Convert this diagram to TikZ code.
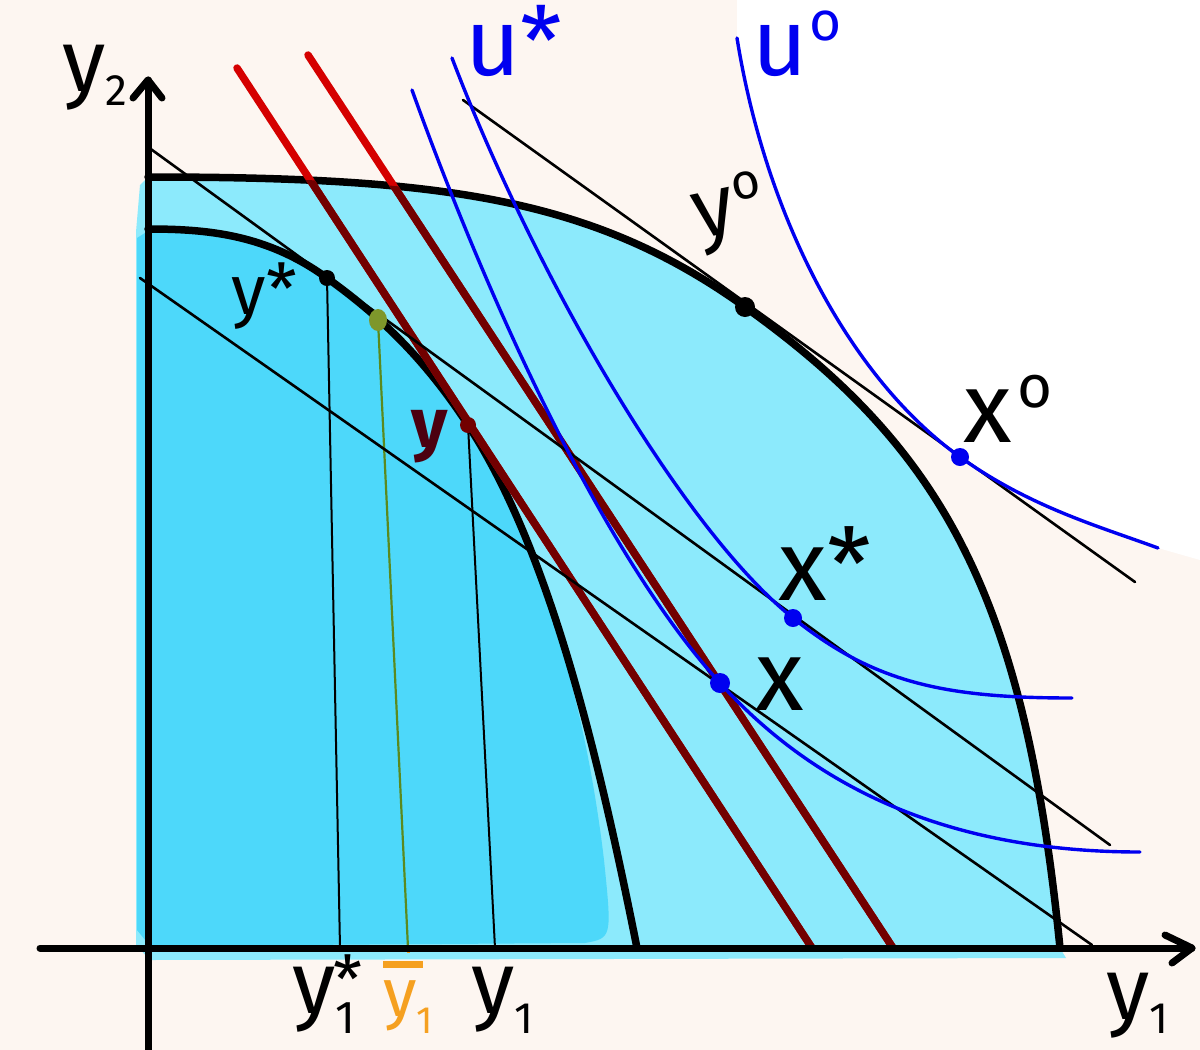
\documentclass[tikz,border=0pt]{standalone}
\usepackage{fontspec}
\setmainfont{Fira Sans}
\definecolor{cream}{HTML}{FDF6F1}
\definecolor{outerfill}{HTML}{8CEAFC}
\definecolor{innerfill}{HTML}{4DD8FA}
\definecolor{redline}{HTML}{D50000}
\definecolor{maroonline}{HTML}{720000}
\definecolor{curveblue}{HTML}{0000F0}
\definecolor{dropgreen}{HTML}{5B8A1E}
\definecolor{dotolive}{HTML}{7E972B}
\definecolor{labelorange}{HTML}{F5A020}
\definecolor{labelmaroon}{HTML}{4C0010}
\newcommand\labsz[1]{\fontsize{#1}{#1}\selectfont}
\begin{document}
\begin{tikzpicture}[x=1pt,y=-1pt,line cap=round,line join=round,
  frontier/.style={line width=7.5pt,black},
  tangent/.style={line width=2.6pt,black},
  drop/.style={line width=2pt,black},
  budget/.style={line width=7.5pt,redline},
  indiff/.style={line width=3.4pt,curveblue},
  axis/.style={line width=7pt,black},
  lab/.style={inner sep=0pt,anchor=base west,text=black}]
\useasboundingbox (0,0) rectangle (1200,1050);
\fill[cream] (0,0) rectangle (1200,1050);
% white patch right of u0
\fill[white] (737,0) -- (1200,0) -- (1200,560) -- (1158,548) .. controls (1098,526) and (1030,507) .. (960,457) .. controls (850,378) and (766,218) .. (737,38) -- cycle;
% outer region fill
\fill[outerfill] (136,232) -- (140,185) -- (148,177) .. controls (448,177) and (595,199.5) .. (745,307) .. controls (945,450) and (1025,598) .. (1060,948) -- (1066,958) -- (150,960) -- (136,945) -- cycle;
% inner region fill
\fill[innerfill] (137,238) -- (148,231) .. controls (208,231) and (267,236) .. (327,280) .. controls (377,316) and (423,358) .. (466,427) .. controls (540,545) and (585,700) .. (604,860) .. controls (612,938) .. (585,943) -- (150,946) -- (137,930) -- cycle;
% frontiers
\draw[frontier] (148,177) .. controls (448,177) and (595,199.5) .. (745,307) .. controls (945,450) and (1025,598) .. (1060,948);
\draw[frontier] (148,229) .. controls (208,229) and (267,234.5) .. (327,278) .. controls (377,314) and (423,356) .. (468,425) .. controls (548,547) and (597,748) .. (637,948);
% points
\coordinate (ys) at (327,278);
\coordinate (yg) at (378,320);
\coordinate (y) at (468,425);
\coordinate (yo) at (745,307);
\coordinate (xo) at (960,457);
\coordinate (xs) at (793,618);
\coordinate (x) at (720,683);
\coordinate (ys1) at (340,948);
\coordinate (yb1) at (408,948);
\coordinate (y1) at (495,948);
% drop lines
\draw[drop] (ys) -- (ys1);
\draw[drop] (y) -- (y1);
\draw[line width=2.2pt,dropgreen] (yg) -- (yb1);
\draw[line width=3pt,labelorange,line cap=butt] (408,946) -- (408,953);
% budget lines
\coordinate (r1a) at (237,68); \coordinate (r1b) at (812,948);
\coordinate (r2a) at (308,55); \coordinate (r2b) at (893,948);
\draw[budget] (r1a) -- (r1b);
\draw[budget] (r2a) -- (r2b);
\begin{scope}
\clip (148,177) .. controls (448,177) and (595,199.5) .. (745,307) .. controls (945,450) and (1025,598) .. (1060,948) -- (1060,960) -- (140,960) -- (140,177) -- cycle;
\draw[budget,maroonline] (r1a) -- (r1b);
\draw[budget,maroonline] (r2a) -- (r2b);
\end{scope}
% tangent lines
\coordinate (l1a) at (148,147); \coordinate (l1b) at (1110,845);
\coordinate (l2a) at (463,100); \coordinate (l2b) at (1135,582);
\coordinate (l3a) at (140,278); \coordinate (l3b) at (1092,945);
\draw[tangent] (l1a) -- (l1b);
\draw[tangent] (l2a) -- (l2b);
\draw[tangent] (l3a) -- (l3b);
% indifference curves
\draw[indiff] (412,90) .. controls (484,290) and (600,551) .. (x) .. controls (810,782) and (940,852) .. (1140,852);
\draw[indiff] (452,58) .. controls (536,278) and (683,530) .. (xs) .. controls (873,682) and (942,698) .. (1072,698);
\draw[indiff] (737,38) .. controls (766,218) and (850,378) .. (xo) .. controls (1030,507) and (1098,526) .. (1158,548);
% axes
\coordinate (ytop) at (148,80);
\coordinate (xend) at (1192,948);
\draw[axis] (148,1050) -- (ytop);
\draw[axis] (133,98) -- (ytop) -- (162,98);
\draw[axis] (40,948) -- (xend);
\draw[axis] (1165,935) -- (xend) -- (1172,963);
% dots
\fill[black] (ys) circle (8pt);
\fill[dotolive] (yg) ellipse (9pt and 11pt);
\fill[maroonline] (y) circle (8pt);
\fill[black] (yo) circle (10pt);
\fill[curveblue] (xo) circle (9pt);
\fill[curveblue] (xs) circle (9pt);
\fill[curveblue] (x) circle (10pt);
% labels
\node[lab] (ly2) at (62,91) {\labsz{88}y\raisebox{-14pt}{\labsz{44}2}};
\node[lab,text=curveblue] (lus) at (465,75) {\labsz{95}u*};
\node[lab,text=curveblue] (luo) at (752,75) {\labsz{95}u\kern2pt\raisebox{35pt}{\labsz{55}o}};
\node[lab,rotate=12] (lyo) at (698,240) {\labsz{85}y\kern2pt\raisebox{30pt}{\labsz{50}o}};
\node[lab] (lxo) at (963,442) {\labsz{100}x\kern6pt\raisebox{35pt}{\labsz{60}o}};
\node[lab] (lxs) at (778,600) {\labsz{100}x*};
\node[lab] (lx) at (755,710) {\labsz{100}x};
\node[lab] (lys) at (231,314) {\labsz{70}y*};
\node[lab,text=labelmaroon] (ly) at (411,447) {\labsz{70}\bfseries y};
\node[lab] (ly1s) at (292,1013) {\labsz{88}y\rlap{\raisebox{-20pt}{\labsz{46}1}}\kern-2pt\raisebox{10pt}{\labsz{66}*}};
\node[lab,text=labelorange] (lyb) at (383,1016) {\labsz{68}\rlap{\raisebox{48pt}{\rule{40pt}{7pt}}}y\raisebox{-17pt}{\labsz{38}1}};
\node[lab] (ly1) at (471,1013) {\labsz{88}y\raisebox{-20pt}{\labsz{44}1}};
\node[lab] (ly1ax) at (1106,1019) {\labsz{88}y\raisebox{-14pt}{\labsz{44}1}};
\end{tikzpicture}
\end{document}
